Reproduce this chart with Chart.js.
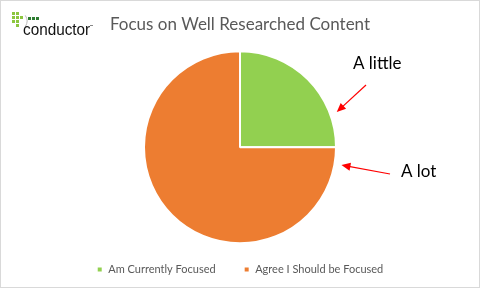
<!DOCTYPE html>
<html>
<head>
<meta charset="utf-8">
<script src="https://cdn.jsdelivr.net/npm/chart.js@4"></script>
<style>
  html, body { margin: 0; padding: 0; background: #fff; }
  #wrap { position: relative; width: 478px; height: 286px; border: 1px solid #d9d9d9; }
</style>
</head>
<body>
<div id="wrap"><canvas id="pieCanvas" width="478" height="286"></canvas></div>
<script>
// Chart data
const categories = ['Am Currently Focused', 'Agree I Should be Focused'];
const shares = [25, 75];
const sliceColors = ['#92D050', '#ED7D31'];
const callouts = ['A little', 'A lot'];

// Logo + red callout arrows, drawn after the pie
const extrasPlugin = {
    id: 'extras',
    afterDraw(chart) {
        const ctx = chart.ctx;
        ctx.save();

        // conductor logo (small dot grid + word)
        ctx.fillStyle = '#8cc63f';
        [[0,0],[4,0],[0,4],[4,4],[8,4],[0,8],[4,8],[4,12]].forEach(p => {
            ctx.fillRect(11 + p[0], 11 + p[1], 3, 3);
        });
        ctx.fillStyle = '#2e7d32';
        [0, 4, 8].forEach(dx => ctx.fillRect(27 + dx, 16, 3, 3));
        ctx.strokeStyle = '#bbb';
        ctx.lineWidth = 1;
        ctx.beginPath();
        ctx.arc(16, 20, 10, -0.6, 0.6);
        ctx.stroke();
        ctx.fillStyle = '#111';
        ctx.font = '17px "Liberation Sans", sans-serif';
        ctx.textBaseline = 'alphabetic';
        ctx.save();
        ctx.translate(22, 34);
        ctx.scale(0.9, 1);
        ctx.fillText('conductor', 0, 0);
        ctx.restore();
        ctx.fillStyle = '#888';
        ctx.fillRect(89, 24, 3, 1);

        // callouts pointing at the slices
        const meta = chart.getDatasetMeta(0);
        const labelPos = [[352, 68], [400, 176]];
        const tailPos = [[365, 84], [389, 173]];
        const tipAngle = [-20, 10];
        meta.data.forEach((arc, i) => {
            const r = arc.outerRadius + 7;
            const a = tipAngle[i] * Math.PI / 180;
            const tx = arc.x + r * Math.cos(a);
            const ty = arc.y + r * Math.sin(a);
            drawArrow(ctx, tailPos[i][0], tailPos[i][1], tx, ty);
            ctx.fillStyle = '#000';
            ctx.font = '17px Lato, "Open Sans", sans-serif';
            ctx.fillText(callouts[i], labelPos[i][0], labelPos[i][1]);
        });
        ctx.restore();
    }
};

function drawArrow(ctx, x1, y1, x2, y2) {
    const ang = Math.atan2(y2 - y1, x2 - x1);
    ctx.strokeStyle = '#ff0000';
    ctx.fillStyle = '#ff0000';
    ctx.lineWidth = 1.2;
    ctx.beginPath();
    ctx.moveTo(x1, y1);
    ctx.lineTo(x2 - 6 * Math.cos(ang), y2 - 6 * Math.sin(ang));
    ctx.stroke();
    ctx.beginPath();
    ctx.moveTo(x2, y2);
    ctx.lineTo(x2 - 9 * Math.cos(ang) + 4 * Math.sin(ang), y2 - 9 * Math.sin(ang) - 4 * Math.cos(ang));
    ctx.lineTo(x2 - 9 * Math.cos(ang) - 4 * Math.sin(ang), y2 - 9 * Math.sin(ang) + 4 * Math.cos(ang));
    ctx.closePath();
    ctx.fill();
}

const ctx = document.getElementById('pieCanvas').getContext('2d');
new Chart(ctx, {
    type: 'pie',
    data: {
        labels: categories,
        datasets: [{
            data: shares,
            backgroundColor: sliceColors,
            borderColor: '#ffffff',
            borderWidth: 2,
            radius: 96
        }]
    },
    options: {
        responsive: false,
        animation: false,
        layout: { padding: { top: 0, bottom: 2, left: 0, right: 0 } },
        plugins: {
            title: {
                display: true,
                text: 'Focus on Well Researched Content',
                color: '#595959',
                font: { family: 'Lato, "Open Sans", sans-serif', size: 17, weight: 'normal' },
                padding: { top: 13, bottom: 24 }
            },
            legend: {
                position: 'bottom',
                labels: {
                    boxWidth: 6,
                    boxHeight: 6,
                    padding: 28,
                    color: '#595959',
                    font: { family: 'Lato, "Open Sans", sans-serif', size: 11 }
                }
            },
            tooltip: { enabled: false }
        }
    },
    plugins: [extrasPlugin]
});
</script>
</body>
</html>
